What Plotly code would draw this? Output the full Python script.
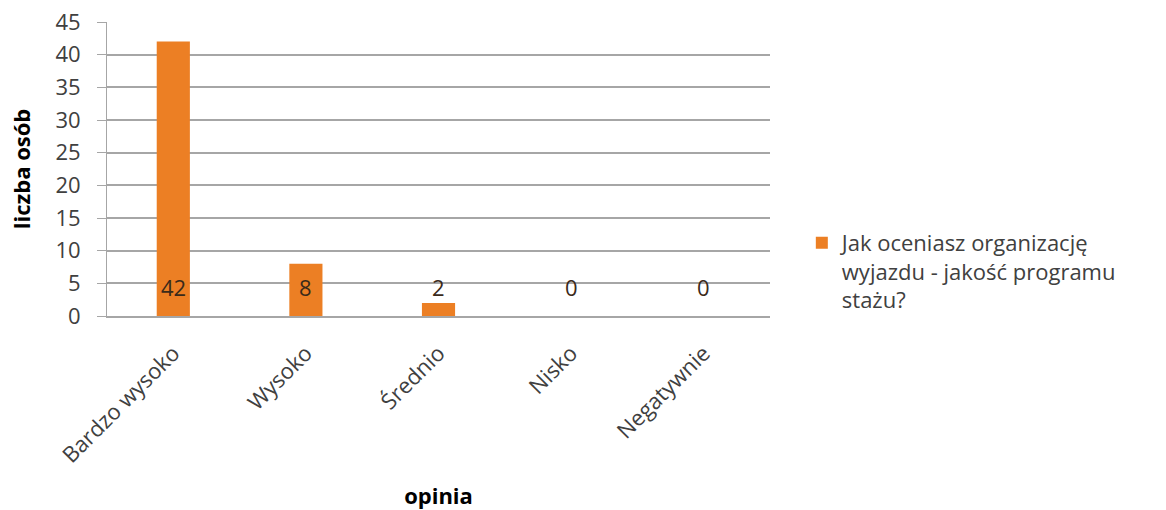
import plotly.graph_objects as go

# Survey answers and counts
categories = ["Bardzo wysoko", "Wysoko", "Średnio", "Nisko", "Negatywnie"]
counts = [42, 8, 2, 0, 0]
series_name = "Jak oceniasz organizację<br>wyjazdu - jakość programu<br>stażu?"
y_ticks = [0, 5, 10, 15, 20, 25, 30, 35, 40, 45]

FONT = "Open Sans, Lato, sans-serif"
GRID = "#a6a6a6"
TEXT = "#404040"

fig = go.Figure()
fig.add_trace(go.Bar(
    x=categories,
    y=counts,
    name=series_name,
    width=0.25,
    marker=dict(color="#ec7f24", line=dict(width=0)),
    showlegend=True,
))

# Value labels sit near the base of each column
for cat, val in zip(categories, counts):
    fig.add_annotation(
        x=cat, y=0, text=str(val), showarrow=False,
        yanchor="bottom", yshift=12,
        font=dict(family=FONT, size=22, color="#3a2a1a"),
    )

fig.update_layout(
    width=1166, height=510,
    margin=dict(l=107, r=396, t=22, b=194, autoexpand=False),
    paper_bgcolor="white", plot_bgcolor="white",
    font=dict(family=FONT, size=20, color=TEXT),
    bargap=0.75,
    legend=dict(
        x=1.048, y=0.32, xanchor="left", yanchor="top",
        valign="top",
        font=dict(family=FONT, size=22, color=TEXT),
        itemwidth=30, tracegroupgap=0,
    ),
)

fig.update_yaxes(
    range=[0, 45], tickvals=y_ticks, automargin=False,
    showgrid=True, gridcolor=GRID, gridwidth=1.5,
    showline=True, linecolor=GRID, linewidth=1,
    ticks="outside", ticklen=9, tickcolor=GRID,
    ticklabelstandoff=12,
    tickfont=dict(family=FONT, size=22, color=TEXT),
    zeroline=False,
    title=dict(text="<b>liczba osób</b>", font=dict(family=FONT, size=22, color="#000000"), standoff=18),
)
fig.update_xaxes(
    tickangle=-45, automargin=False,
    showline=True, linecolor=GRID, linewidth=1.5,
    ticks="", showgrid=False,
    ticklabelstandoff=14,
    tickfont=dict(family=FONT, size=22, color=TEXT),
    title=dict(text="<b>opinia</b>", font=dict(family=FONT, size=22, color="#000000"), standoff=22),
)

fig.write_html("out.html")
